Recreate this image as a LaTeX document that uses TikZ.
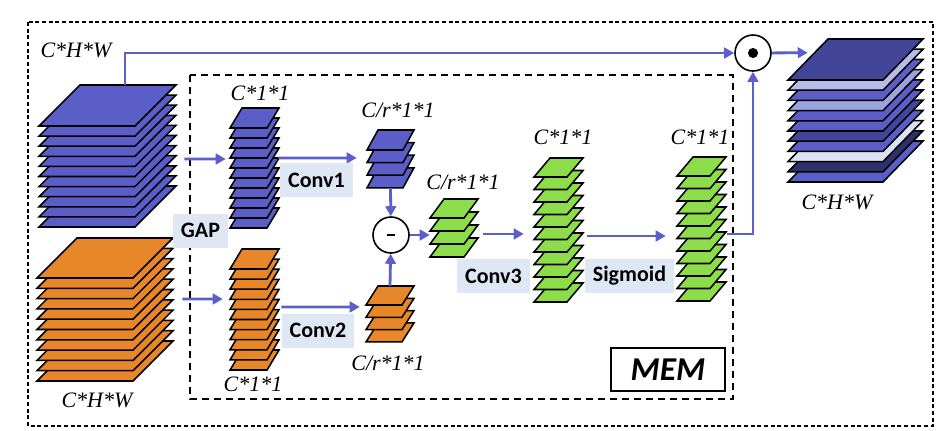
\documentclass[tikz,border=0pt]{standalone}
\usepackage{fontspec}
\setmainfont{Liberation Serif}
\setsansfont{Carlito}
\usetikzlibrary{arrows.meta,positioning,fit,calc}

\definecolor{featblue}{HTML}{5A5EC6}
\definecolor{featorange}{HTML}{E8862A}
\definecolor{featgreen}{HTML}{8DDD4B}
\definecolor{flowblue}{HTML}{5B5FCB}
\definecolor{opfill}{HTML}{DFE7F5}
\definecolor{outc1}{HTML}{434599}
\definecolor{outc2}{HTML}{B6BDE8}
\definecolor{outc3}{HTML}{5A5EC6}
\definecolor{outc4}{HTML}{9BA3E0}
\definecolor{outc5}{HTML}{5A5EC6}
\definecolor{outc6}{HTML}{5A5EC6}
\definecolor{outc7}{HTML}{43459A}
\definecolor{outc8}{HTML}{5A5EC6}
\definecolor{outc9}{HTML}{DCE1F5}
\definecolor{outc10}{HTML}{2E2F6B}
\definecolor{outc11}{HTML}{5A5EC6}

% stack of feature plates: name, x, y (bottom of top plate), width, skew, depth, count, gap, fill
\newcommand{\featstack}[9]{%
  \foreach \k in {#7,...,1}
    \draw[plate,fill=#9] (#2,{#3+(\k-1)*#8}) -- ++(#4,0) -- ++(#5,-#6) -- ++(-#4,0) -- cycle;
  \node[fit={(#2,{#3-#6}) ({#2+#4+#5},{#3+(#7-1)*#8})},inner sep=0pt] (#1) {};
}

\begin{document}
\begin{tikzpicture}[x=0.75pt,y=-0.75pt,
  plate/.style={draw=black,line width=1.15pt,line join=miter},
  flow/.style={draw=flowblue,line width=2.1pt,-{Triangle[length=7.5pt,width=8pt]}},
  dim/.style={font=\fontsize{16.5}{18}\selectfont\itshape,inner sep=0pt},
  oplabel/.style={fill=opfill,font=\sffamily\bfseries\fontsize{16.5}{18}\selectfont,
    inner xsep=6pt,minimum height=25.5pt},
  opnode/.style={circle,draw=black,line width=1.2pt,fill=white,minimum size=27pt,inner sep=0pt}]
  \useasboundingbox (0,0) rectangle (944,430);

  % frames
  \draw[line width=1.1pt,dash pattern=on 3pt off 2pt] (28,22) rectangle (933,426);
  \draw[line width=1.1pt,dash pattern=on 5.5pt off 3.5pt] (190,75) rectangle (733,399);

  % feature stacks
  \featstack{bigblue}{39}{126}{96}{41}{41}{11}{10.1}{featblue}
  \featstack{bigorange}{37}{278}{96}{40}{40}{11}{10.3}{featorange}
  \featstack{c1blue}{230}{128}{37}{12}{20}{11}{10}{featblue}
  \featstack{c1orange}{230}{269}{37}{12}{20}{11}{10.1}{featorange}
  \featstack{crblue}{367}{150}{36}{11}{20}{4}{12.6}{featblue}
  \featstack{crorange}{366}{305}{36}{12}{19}{4}{12.3}{featorange}
  \featstack{crgreen}{430}{218}{34}{14}{19}{4}{13}{featgreen}
  \featstack{c1green}{534}{177}{33}{16}{19}{11}{12.5}{featgreen}
  \featstack{c1gate}{677}{176}{33}{16}{19}{11}{12.5}{featgreen}
  \featstack{out}{788}{80}{95}{40}{41}{11}{10.2}{outc\k}

  % operators
  \node[opnode] (minus) at (391,235) {\rule[-1.2pt]{5.4pt}{1.8pt}};
  \node[opnode] (mult) at (753,53) {};
  \fill (mult) circle[radius=3.8pt];

  % dimensions
  \node[dim] (dimin1) at (76,50) {C*H*W};
  \node[dim] (dimin2) at (97,400) {C*H*W};
  \node[dim] (dimc1) at (260,93) {C*1*1};
  \node[dim] (dimc2) at (253,384) {C*1*1};
  \node[dim] (dimr1) at (398,110) {C/r*1*1};
  \node[dim] (dimr2) at (388,363) {C/r*1*1};
  \node[dim] (dimr3) at (463,182) {C/r*1*1};
  \node[dim] (dimg1) at (563,137) {C*1*1};
  \node[dim] (dimg2) at (700,137) {C*1*1};
  \node[dim] (dimout) at (837,202) {C*H*W};

  % connections
  \draw[flow] ($(bigblue.north)+(17.5,0)$) |- (mult);
  \draw[flow] ($(bigblue.east)+(8,3)$) -- ($(c1blue.west)+(-4,-9)$);
  \draw[flow] ($(bigorange.east)+(9,-10.5)$) -- ($(c1orange.west)+(-7,-10.5)$);
  \draw[flow] ($(c1blue.east)+(-1,-10)$) -- ($(crblue.west)+(-10,-1)$);
  \draw[flow] ($(c1orange.east)+(2,-2.5)$) -- ($(crorange.west)+(-6,-7)$);
  \draw[flow] (crblue.south) -- (minus);
  \draw[flow] (crorange.north) -- (minus);
  \draw[flow] (minus) -- (minus -| crgreen.west);
  \draw[flow] ($(crgreen.east)+(5,6)$) -- ($(c1green.west)+(-10,4)$);
  \draw[flow] ($(c1green.east)+(4,6)$) -- ($(c1gate.west)+(-11,7)$);
  \draw[flow] ($(c1gate.east)+(1,5)$) -| (mult);
  \draw[flow] (mult) -- ($(out.north west)+(20,14)$);

  % operation labels
  \node[oplabel] (gap) at (200.5,230.5) {GAP};
  \node[oplabel] (conv1) at (316.5,180) {Conv1};
  \node[oplabel] (conv2) at (318,330.5) {Conv2};
  \node[oplabel] (conv3) at (493.5,276) {Conv3};
  \node[oplabel] (sigmoid) at (629.5,275.5) {Sigmoid};

  \node[draw,line width=1.5pt,minimum width=85.5pt,minimum height=32pt,
    font=\sffamily\bfseries\itshape\fontsize{25}{28}\selectfont] (mem) at (668,369.5) {MEM};
\end{tikzpicture}
\end{document}
